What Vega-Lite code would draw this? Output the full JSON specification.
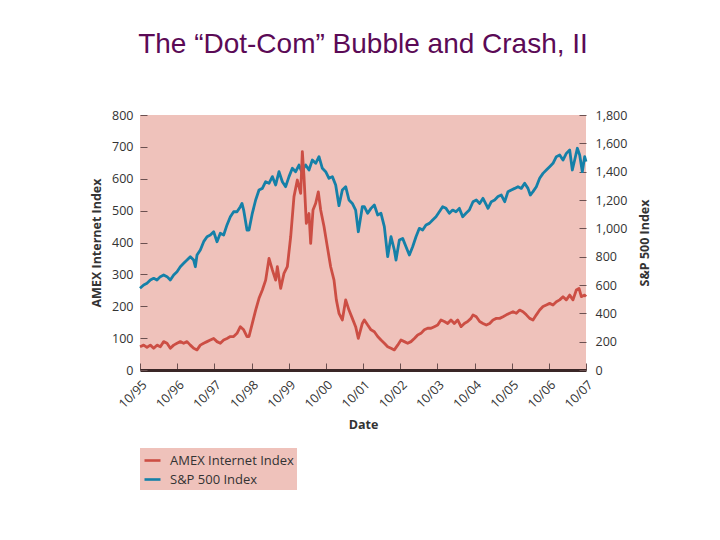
{
  "$schema": "https://vega.github.io/schema/vega-lite/v6.json",
  "width": 446,
  "height": 255,
  "autosize": {"type": "pad"},
  "padding": {"left": 90, "top": 31, "right": 10, "bottom": 10},
  "background": "white",
  "title": {
    "text": "The “Dot-Com” Bubble and Crash, II",
    "font": "Liberation Sans",
    "fontSize": 28,
    "fontWeight": "normal",
    "color": "#5b0a56",
    "anchor": "middle",
    "offset": 50
  },
  "config": {
    "view": {"fill": "#efc2bb", "stroke": null},
    "font": "Open Sans",
    "legend": {
      "orient": "none",
      "legendX": 0,
      "legendY": 333,
      "direction": "vertical",
      "fillColor": "#efc2bb",
      "padding": 3,
      "symbolType": "stroke",
      "symbolSize": 256,
      "symbolStrokeWidth": 2.6,
      "labelFontSize": 13,
      "labelColor": "#333333",
      "labelOffset": 8,
      "rowPadding": 2,
      "title": null
    }
  },
  "data": {
    "values": [
      {"year": 1995.75, "series": "S&P 500 Index", "value": 577},
      {"year": 1995.849, "series": "S&P 500 Index", "value": 600},
      {"year": 1995.938, "series": "S&P 500 Index", "value": 612},
      {"year": 1996.028, "series": "S&P 500 Index", "value": 635},
      {"year": 1996.118, "series": "S&P 500 Index", "value": 647},
      {"year": 1996.207, "series": "S&P 500 Index", "value": 635},
      {"year": 1996.297, "series": "S&P 500 Index", "value": 659},
      {"year": 1996.387, "series": "S&P 500 Index", "value": 671},
      {"year": 1996.477, "series": "S&P 500 Index", "value": 659},
      {"year": 1996.566, "series": "S&P 500 Index", "value": 635},
      {"year": 1996.656, "series": "S&P 500 Index", "value": 671},
      {"year": 1996.746, "series": "S&P 500 Index", "value": 694},
      {"year": 1996.835, "series": "S&P 500 Index", "value": 729},
      {"year": 1996.925, "series": "S&P 500 Index", "value": 753},
      {"year": 1997.015, "series": "S&P 500 Index", "value": 776},
      {"year": 1997.104, "series": "S&P 500 Index", "value": 800},
      {"year": 1997.194, "series": "S&P 500 Index", "value": 776},
      {"year": 1997.239, "series": "S&P 500 Index", "value": 729},
      {"year": 1997.284, "series": "S&P 500 Index", "value": 812},
      {"year": 1997.373, "series": "S&P 500 Index", "value": 847},
      {"year": 1997.463, "series": "S&P 500 Index", "value": 906},
      {"year": 1997.553, "series": "S&P 500 Index", "value": 941},
      {"year": 1997.642, "series": "S&P 500 Index", "value": 953},
      {"year": 1997.732, "series": "S&P 500 Index", "value": 976},
      {"year": 1997.822, "series": "S&P 500 Index", "value": 905},
      {"year": 1997.911, "series": "S&P 500 Index", "value": 965},
      {"year": 1998.001, "series": "S&P 500 Index", "value": 953},
      {"year": 1998.091, "series": "S&P 500 Index", "value": 1024},
      {"year": 1998.181, "series": "S&P 500 Index", "value": 1082},
      {"year": 1998.27, "series": "S&P 500 Index", "value": 1117},
      {"year": 1998.36, "series": "S&P 500 Index", "value": 1117},
      {"year": 1998.45, "series": "S&P 500 Index", "value": 1153},
      {"year": 1998.494, "series": "S&P 500 Index", "value": 1176},
      {"year": 1998.539, "series": "S&P 500 Index", "value": 1129},
      {"year": 1998.629, "series": "S&P 500 Index", "value": 988},
      {"year": 1998.683, "series": "S&P 500 Index", "value": 988},
      {"year": 1998.772, "series": "S&P 500 Index", "value": 1106},
      {"year": 1998.862, "series": "S&P 500 Index", "value": 1200},
      {"year": 1998.952, "series": "S&P 500 Index", "value": 1271},
      {"year": 1999.042, "series": "S&P 500 Index", "value": 1282},
      {"year": 1999.131, "series": "S&P 500 Index", "value": 1329},
      {"year": 1999.221, "series": "S&P 500 Index", "value": 1318},
      {"year": 1999.311, "series": "S&P 500 Index", "value": 1365},
      {"year": 1999.4, "series": "S&P 500 Index", "value": 1306},
      {"year": 1999.49, "series": "S&P 500 Index", "value": 1400},
      {"year": 1999.58, "series": "S&P 500 Index", "value": 1329},
      {"year": 1999.669, "series": "S&P 500 Index", "value": 1294},
      {"year": 1999.759, "series": "S&P 500 Index", "value": 1365},
      {"year": 1999.849, "series": "S&P 500 Index", "value": 1424},
      {"year": 1999.938, "series": "S&P 500 Index", "value": 1400},
      {"year": 2000.028, "series": "S&P 500 Index", "value": 1447},
      {"year": 2000.118, "series": "S&P 500 Index", "value": 1388},
      {"year": 2000.163, "series": "S&P 500 Index", "value": 1430},
      {"year": 2000.207, "series": "S&P 500 Index", "value": 1447},
      {"year": 2000.297, "series": "S&P 500 Index", "value": 1412},
      {"year": 2000.387, "series": "S&P 500 Index", "value": 1482},
      {"year": 2000.477, "series": "S&P 500 Index", "value": 1459},
      {"year": 2000.566, "series": "S&P 500 Index", "value": 1506},
      {"year": 2000.656, "series": "S&P 500 Index", "value": 1424},
      {"year": 2000.746, "series": "S&P 500 Index", "value": 1400},
      {"year": 2000.835, "series": "S&P 500 Index", "value": 1353},
      {"year": 2000.925, "series": "S&P 500 Index", "value": 1365},
      {"year": 2001.015, "series": "S&P 500 Index", "value": 1306},
      {"year": 2001.104, "series": "S&P 500 Index", "value": 1160},
      {"year": 2001.194, "series": "S&P 500 Index", "value": 1271},
      {"year": 2001.284, "series": "S&P 500 Index", "value": 1294},
      {"year": 2001.373, "series": "S&P 500 Index", "value": 1200},
      {"year": 2001.463, "series": "S&P 500 Index", "value": 1176},
      {"year": 2001.552, "series": "S&P 500 Index", "value": 1129},
      {"year": 2001.624, "series": "S&P 500 Index", "value": 976},
      {"year": 2001.732, "series": "S&P 500 Index", "value": 1153},
      {"year": 2001.786, "series": "S&P 500 Index", "value": 1153},
      {"year": 2001.876, "series": "S&P 500 Index", "value": 1106},
      {"year": 2001.965, "series": "S&P 500 Index", "value": 1141},
      {"year": 2002.055, "series": "S&P 500 Index", "value": 1165},
      {"year": 2002.145, "series": "S&P 500 Index", "value": 1094},
      {"year": 2002.234, "series": "S&P 500 Index", "value": 1106},
      {"year": 2002.324, "series": "S&P 500 Index", "value": 1012},
      {"year": 2002.414, "series": "S&P 500 Index", "value": 800},
      {"year": 2002.503, "series": "S&P 500 Index", "value": 941},
      {"year": 2002.593, "series": "S&P 500 Index", "value": 847},
      {"year": 2002.638, "series": "S&P 500 Index", "value": 776},
      {"year": 2002.728, "series": "S&P 500 Index", "value": 918},
      {"year": 2002.817, "series": "S&P 500 Index", "value": 929},
      {"year": 2002.907, "series": "S&P 500 Index", "value": 870},
      {"year": 2002.997, "series": "S&P 500 Index", "value": 812},
      {"year": 2003.086, "series": "S&P 500 Index", "value": 870},
      {"year": 2003.176, "series": "S&P 500 Index", "value": 941},
      {"year": 2003.266, "series": "S&P 500 Index", "value": 1000},
      {"year": 2003.355, "series": "S&P 500 Index", "value": 988},
      {"year": 2003.445, "series": "S&P 500 Index", "value": 1024},
      {"year": 2003.535, "series": "S&P 500 Index", "value": 1035},
      {"year": 2003.624, "series": "S&P 500 Index", "value": 1059},
      {"year": 2003.714, "series": "S&P 500 Index", "value": 1082},
      {"year": 2003.804, "series": "S&P 500 Index", "value": 1117},
      {"year": 2003.893, "series": "S&P 500 Index", "value": 1153},
      {"year": 2003.983, "series": "S&P 500 Index", "value": 1141},
      {"year": 2004.073, "series": "S&P 500 Index", "value": 1106},
      {"year": 2004.162, "series": "S&P 500 Index", "value": 1129},
      {"year": 2004.252, "series": "S&P 500 Index", "value": 1117},
      {"year": 2004.342, "series": "S&P 500 Index", "value": 1141},
      {"year": 2004.432, "series": "S&P 500 Index", "value": 1082},
      {"year": 2004.521, "series": "S&P 500 Index", "value": 1106},
      {"year": 2004.611, "series": "S&P 500 Index", "value": 1129},
      {"year": 2004.71, "series": "S&P 500 Index", "value": 1188},
      {"year": 2004.799, "series": "S&P 500 Index", "value": 1200},
      {"year": 2004.889, "series": "S&P 500 Index", "value": 1176},
      {"year": 2004.979, "series": "S&P 500 Index", "value": 1212},
      {"year": 2005.068, "series": "S&P 500 Index", "value": 1165},
      {"year": 2005.113, "series": "S&P 500 Index", "value": 1141},
      {"year": 2005.203, "series": "S&P 500 Index", "value": 1188},
      {"year": 2005.293, "series": "S&P 500 Index", "value": 1200},
      {"year": 2005.382, "series": "S&P 500 Index", "value": 1224},
      {"year": 2005.472, "series": "S&P 500 Index", "value": 1235},
      {"year": 2005.562, "series": "S&P 500 Index", "value": 1188},
      {"year": 2005.651, "series": "S&P 500 Index", "value": 1259},
      {"year": 2005.741, "series": "S&P 500 Index", "value": 1271},
      {"year": 2005.831, "series": "S&P 500 Index", "value": 1282},
      {"year": 2005.92, "series": "S&P 500 Index", "value": 1294},
      {"year": 2006.01, "series": "S&P 500 Index", "value": 1282},
      {"year": 2006.1, "series": "S&P 500 Index", "value": 1318},
      {"year": 2006.189, "series": "S&P 500 Index", "value": 1282},
      {"year": 2006.252, "series": "S&P 500 Index", "value": 1235},
      {"year": 2006.324, "series": "S&P 500 Index", "value": 1259},
      {"year": 2006.414, "series": "S&P 500 Index", "value": 1294},
      {"year": 2006.503, "series": "S&P 500 Index", "value": 1353},
      {"year": 2006.593, "series": "S&P 500 Index", "value": 1388},
      {"year": 2006.683, "series": "S&P 500 Index", "value": 1412},
      {"year": 2006.772, "series": "S&P 500 Index", "value": 1435},
      {"year": 2006.862, "series": "S&P 500 Index", "value": 1459},
      {"year": 2006.952, "series": "S&P 500 Index", "value": 1506},
      {"year": 2007.042, "series": "S&P 500 Index", "value": 1518},
      {"year": 2007.131, "series": "S&P 500 Index", "value": 1482},
      {"year": 2007.221, "series": "S&P 500 Index", "value": 1529},
      {"year": 2007.311, "series": "S&P 500 Index", "value": 1553},
      {"year": 2007.382, "series": "S&P 500 Index", "value": 1412},
      {"year": 2007.445, "series": "S&P 500 Index", "value": 1482},
      {"year": 2007.517, "series": "S&P 500 Index", "value": 1565},
      {"year": 2007.58, "series": "S&P 500 Index", "value": 1518},
      {"year": 2007.651, "series": "S&P 500 Index", "value": 1400},
      {"year": 2007.714, "series": "S&P 500 Index", "value": 1506},
      {"year": 2007.75, "series": "S&P 500 Index", "value": 1471},

      {"year": 1995.75, "series": "AMEX Internet Index", "value": 73},
      {"year": 1995.849, "series": "AMEX Internet Index", "value": 78},
      {"year": 1995.938, "series": "AMEX Internet Index", "value": 71},
      {"year": 1996.028, "series": "AMEX Internet Index", "value": 78},
      {"year": 1996.118, "series": "AMEX Internet Index", "value": 68},
      {"year": 1996.207, "series": "AMEX Internet Index", "value": 78},
      {"year": 1996.297, "series": "AMEX Internet Index", "value": 73},
      {"year": 1996.387, "series": "AMEX Internet Index", "value": 89},
      {"year": 1996.477, "series": "AMEX Internet Index", "value": 84},
      {"year": 1996.566, "series": "AMEX Internet Index", "value": 68},
      {"year": 1996.656, "series": "AMEX Internet Index", "value": 78},
      {"year": 1996.746, "series": "AMEX Internet Index", "value": 84},
      {"year": 1996.835, "series": "AMEX Internet Index", "value": 89},
      {"year": 1996.925, "series": "AMEX Internet Index", "value": 84},
      {"year": 1997.015, "series": "AMEX Internet Index", "value": 89},
      {"year": 1997.104, "series": "AMEX Internet Index", "value": 78},
      {"year": 1997.194, "series": "AMEX Internet Index", "value": 68},
      {"year": 1997.284, "series": "AMEX Internet Index", "value": 63},
      {"year": 1997.373, "series": "AMEX Internet Index", "value": 78},
      {"year": 1997.463, "series": "AMEX Internet Index", "value": 84},
      {"year": 1997.553, "series": "AMEX Internet Index", "value": 89},
      {"year": 1997.642, "series": "AMEX Internet Index", "value": 94},
      {"year": 1997.732, "series": "AMEX Internet Index", "value": 99},
      {"year": 1997.822, "series": "AMEX Internet Index", "value": 89},
      {"year": 1997.911, "series": "AMEX Internet Index", "value": 84},
      {"year": 1998.001, "series": "AMEX Internet Index", "value": 94},
      {"year": 1998.091, "series": "AMEX Internet Index", "value": 99},
      {"year": 1998.181, "series": "AMEX Internet Index", "value": 105},
      {"year": 1998.27, "series": "AMEX Internet Index", "value": 105},
      {"year": 1998.36, "series": "AMEX Internet Index", "value": 115},
      {"year": 1998.45, "series": "AMEX Internet Index", "value": 136},
      {"year": 1998.539, "series": "AMEX Internet Index", "value": 126},
      {"year": 1998.629, "series": "AMEX Internet Index", "value": 105},
      {"year": 1998.683, "series": "AMEX Internet Index", "value": 105},
      {"year": 1998.772, "series": "AMEX Internet Index", "value": 146},
      {"year": 1998.862, "series": "AMEX Internet Index", "value": 188},
      {"year": 1998.952, "series": "AMEX Internet Index", "value": 225},
      {"year": 1999.042, "series": "AMEX Internet Index", "value": 251},
      {"year": 1999.131, "series": "AMEX Internet Index", "value": 282},
      {"year": 1999.221, "series": "AMEX Internet Index", "value": 350},
      {"year": 1999.311, "series": "AMEX Internet Index", "value": 314},
      {"year": 1999.4, "series": "AMEX Internet Index", "value": 282},
      {"year": 1999.445, "series": "AMEX Internet Index", "value": 324},
      {"year": 1999.535, "series": "AMEX Internet Index", "value": 256},
      {"year": 1999.624, "series": "AMEX Internet Index", "value": 303},
      {"year": 1999.714, "series": "AMEX Internet Index", "value": 324},
      {"year": 1999.804, "series": "AMEX Internet Index", "value": 418},
      {"year": 1999.893, "series": "AMEX Internet Index", "value": 544},
      {"year": 1999.983, "series": "AMEX Internet Index", "value": 596},
      {"year": 2000.073, "series": "AMEX Internet Index", "value": 554},
      {"year": 2000.118, "series": "AMEX Internet Index", "value": 685},
      {"year": 2000.163, "series": "AMEX Internet Index", "value": 606},
      {"year": 2000.225, "series": "AMEX Internet Index", "value": 460},
      {"year": 2000.297, "series": "AMEX Internet Index", "value": 491},
      {"year": 2000.342, "series": "AMEX Internet Index", "value": 397},
      {"year": 2000.405, "series": "AMEX Internet Index", "value": 502},
      {"year": 2000.477, "series": "AMEX Internet Index", "value": 523},
      {"year": 2000.548, "series": "AMEX Internet Index", "value": 559},
      {"year": 2000.611, "series": "AMEX Internet Index", "value": 502},
      {"year": 2000.701, "series": "AMEX Internet Index", "value": 450},
      {"year": 2000.79, "series": "AMEX Internet Index", "value": 387},
      {"year": 2000.88, "series": "AMEX Internet Index", "value": 324},
      {"year": 2000.97, "series": "AMEX Internet Index", "value": 282},
      {"year": 2001.033, "series": "AMEX Internet Index", "value": 220},
      {"year": 2001.104, "series": "AMEX Internet Index", "value": 178},
      {"year": 2001.194, "series": "AMEX Internet Index", "value": 157},
      {"year": 2001.284, "series": "AMEX Internet Index", "value": 220},
      {"year": 2001.373, "series": "AMEX Internet Index", "value": 188},
      {"year": 2001.463, "series": "AMEX Internet Index", "value": 162},
      {"year": 2001.552, "series": "AMEX Internet Index", "value": 136},
      {"year": 2001.624, "series": "AMEX Internet Index", "value": 99},
      {"year": 2001.732, "series": "AMEX Internet Index", "value": 146},
      {"year": 2001.786, "series": "AMEX Internet Index", "value": 157},
      {"year": 2001.876, "series": "AMEX Internet Index", "value": 141},
      {"year": 2001.965, "series": "AMEX Internet Index", "value": 126},
      {"year": 2002.055, "series": "AMEX Internet Index", "value": 120},
      {"year": 2002.145, "series": "AMEX Internet Index", "value": 105},
      {"year": 2002.234, "series": "AMEX Internet Index", "value": 94},
      {"year": 2002.324, "series": "AMEX Internet Index", "value": 84},
      {"year": 2002.414, "series": "AMEX Internet Index", "value": 73},
      {"year": 2002.503, "series": "AMEX Internet Index", "value": 68},
      {"year": 2002.593, "series": "AMEX Internet Index", "value": 63},
      {"year": 2002.683, "series": "AMEX Internet Index", "value": 78},
      {"year": 2002.772, "series": "AMEX Internet Index", "value": 94},
      {"year": 2002.862, "series": "AMEX Internet Index", "value": 89},
      {"year": 2002.952, "series": "AMEX Internet Index", "value": 84},
      {"year": 2003.041, "series": "AMEX Internet Index", "value": 89},
      {"year": 2003.131, "series": "AMEX Internet Index", "value": 99},
      {"year": 2003.221, "series": "AMEX Internet Index", "value": 110},
      {"year": 2003.31, "series": "AMEX Internet Index", "value": 115},
      {"year": 2003.4, "series": "AMEX Internet Index", "value": 126},
      {"year": 2003.49, "series": "AMEX Internet Index", "value": 131},
      {"year": 2003.579, "series": "AMEX Internet Index", "value": 131},
      {"year": 2003.669, "series": "AMEX Internet Index", "value": 136},
      {"year": 2003.759, "series": "AMEX Internet Index", "value": 141},
      {"year": 2003.848, "series": "AMEX Internet Index", "value": 157},
      {"year": 2003.938, "series": "AMEX Internet Index", "value": 152},
      {"year": 2004.028, "series": "AMEX Internet Index", "value": 146},
      {"year": 2004.117, "series": "AMEX Internet Index", "value": 157},
      {"year": 2004.207, "series": "AMEX Internet Index", "value": 146},
      {"year": 2004.297, "series": "AMEX Internet Index", "value": 157},
      {"year": 2004.387, "series": "AMEX Internet Index", "value": 136},
      {"year": 2004.476, "series": "AMEX Internet Index", "value": 146},
      {"year": 2004.566, "series": "AMEX Internet Index", "value": 152},
      {"year": 2004.656, "series": "AMEX Internet Index", "value": 162},
      {"year": 2004.71, "series": "AMEX Internet Index", "value": 173},
      {"year": 2004.799, "series": "AMEX Internet Index", "value": 167},
      {"year": 2004.889, "series": "AMEX Internet Index", "value": 152},
      {"year": 2004.979, "series": "AMEX Internet Index", "value": 146},
      {"year": 2005.068, "series": "AMEX Internet Index", "value": 141},
      {"year": 2005.158, "series": "AMEX Internet Index", "value": 146},
      {"year": 2005.248, "series": "AMEX Internet Index", "value": 157},
      {"year": 2005.338, "series": "AMEX Internet Index", "value": 162},
      {"year": 2005.427, "series": "AMEX Internet Index", "value": 162},
      {"year": 2005.517, "series": "AMEX Internet Index", "value": 167},
      {"year": 2005.607, "series": "AMEX Internet Index", "value": 173},
      {"year": 2005.696, "series": "AMEX Internet Index", "value": 178},
      {"year": 2005.786, "series": "AMEX Internet Index", "value": 183},
      {"year": 2005.876, "series": "AMEX Internet Index", "value": 178},
      {"year": 2005.965, "series": "AMEX Internet Index", "value": 188},
      {"year": 2006.055, "series": "AMEX Internet Index", "value": 183},
      {"year": 2006.145, "series": "AMEX Internet Index", "value": 173},
      {"year": 2006.234, "series": "AMEX Internet Index", "value": 162},
      {"year": 2006.324, "series": "AMEX Internet Index", "value": 157},
      {"year": 2006.414, "series": "AMEX Internet Index", "value": 173},
      {"year": 2006.503, "series": "AMEX Internet Index", "value": 188},
      {"year": 2006.593, "series": "AMEX Internet Index", "value": 199},
      {"year": 2006.683, "series": "AMEX Internet Index", "value": 204},
      {"year": 2006.772, "series": "AMEX Internet Index", "value": 209},
      {"year": 2006.862, "series": "AMEX Internet Index", "value": 204},
      {"year": 2006.952, "series": "AMEX Internet Index", "value": 214},
      {"year": 2007.042, "series": "AMEX Internet Index", "value": 220},
      {"year": 2007.131, "series": "AMEX Internet Index", "value": 230},
      {"year": 2007.221, "series": "AMEX Internet Index", "value": 220},
      {"year": 2007.311, "series": "AMEX Internet Index", "value": 235},
      {"year": 2007.4, "series": "AMEX Internet Index", "value": 220},
      {"year": 2007.49, "series": "AMEX Internet Index", "value": 251},
      {"year": 2007.562, "series": "AMEX Internet Index", "value": 256},
      {"year": 2007.624, "series": "AMEX Internet Index", "value": 230},
      {"year": 2007.714, "series": "AMEX Internet Index", "value": 235},
      {"year": 2007.75, "series": "AMEX Internet Index", "value": 230}
    ]
  },
  "encoding": {
    "x": {
      "field": "year",
      "type": "quantitative",
      "scale": {"domain": [1995.75, 2007.75], "nice": false, "zero": false},
      "axis": {
        "values": [1995.75, 1996.75, 1997.75, 1998.75, 1999.75, 2000.75, 2001.75, 2002.75, 2003.75, 2004.75, 2005.75, 2006.75, 2007.75],
        "labelExpr": "'10/' + format(floor(datum.value) % 100, '02d')",
        "labelAngle": -45,
        "labelFontSize": 12.5,
        "labelColor": "#333333",
        "labelFlush": false,
        "labelOverlap": false,
        "labelBound": false,
        "labelPadding": 15,
        "tickSize": -7,
        "tickColor": "#6b5050",
        "domainColor": "#3a2626",
        "domainWidth": 3,
        "grid": false,
        "title": "Date",
        "titleFontSize": 12.5,
        "titleFontWeight": "bold",
        "titleColor": "#333333",
        "titlePadding": 8
      }
    },
    "color": {
      "field": "series",
      "type": "nominal",
      "scale": {"domain": ["AMEX Internet Index", "S&P 500 Index"], "range": ["#cc4e44", "#1580a8"]}
    }
  },
  "layer": [
    {
      "transform": [{"filter": "datum.series === 'S&P 500 Index'"}],
      "mark": {"type": "line", "strokeWidth": 2.8, "strokeJoin": "round"},
      "encoding": {
        "y": {
          "field": "value",
          "type": "quantitative",
          "scale": {"domain": [0, 1800], "nice": false},
          "axis": {
            "orient": "right",
            "title": "S&P 500 Index",
            "values": [0, 200, 400, 600, 800, 1000, 1200, 1400, 1600, 1800],
            "format": ",d",
            "domain": false,
            "grid": false,
            "tickSize": -7,
            "tickColor": "#6b5050",
            "labelPadding": 16,
            "labelFontSize": 12.5,
            "labelColor": "#333333",
            "titleAngle": 270,
            "titleFontSize": 12.5,
            "titleFontWeight": "bold",
            "titleColor": "#333333",
            "titlePadding": 25
          }
        }
      }
    },
    {
      "transform": [{"filter": "datum.series === 'AMEX Internet Index'"}],
      "mark": {"type": "line", "strokeWidth": 2.8, "strokeJoin": "round"},
      "encoding": {
        "y": {
          "field": "value",
          "type": "quantitative",
          "scale": {"domain": [0, 800], "nice": false},
          "axis": {
            "orient": "left",
            "title": "AMEX Internet Index",
            "values": [0, 100, 200, 300, 400, 500, 600, 700, 800],
            "domain": false,
            "grid": false,
            "tickSize": -7,
            "tickColor": "#6b5050",
            "labelPadding": 14,
            "labelFontSize": 12.5,
            "labelColor": "#333333",
            "titleFontSize": 12.5,
            "titleFontWeight": "bold",
            "titleColor": "#333333",
            "titlePadding": 8
          }
        }
      }
    }
  ],
  "resolve": {"scale": {"y": "independent"}}
}
